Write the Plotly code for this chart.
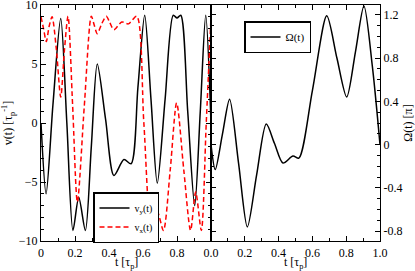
import plotly.graph_objects as go

# v_y(t) (black, left panel)
vy_t = [0.0, 0.03, 0.07, 0.116, 0.152, 0.188, 0.222, 0.261, 0.296, 0.331, 0.38, 0.429,
        0.488, 0.53, 0.57, 0.61, 0.647, 0.684, 0.73, 0.778, 0.80, 0.822, 0.863, 0.904,
        0.937, 0.969, 1.0]
vy_v = [0.0, -6.0, 1.5, 8.85, 0.0, -9.1, -6.3, -9.1, -2.0, 5.0, 0.3, -4.45,
        -3.1, -3.45, 3.0, 9.13, 2.0, -5.1, 2.0, 9.13, 8.9, 9.13, 1.0, -7.0,
        1.0, 9.13, 0.0]

# v_x(t) (red dashed, left panel)
vx_t = [0.0, 0.015, 0.031, 0.048, 0.065, 0.09, 0.116, 0.138, 0.159, 0.186, 0.214,
        0.255, 0.296, 0.313, 0.331, 0.357, 0.384, 0.405, 0.429, 0.475, 0.514, 0.563,
        0.605, 0.649, 0.684, 0.72, 0.76, 0.798, 0.84, 0.88, 0.91, 0.943, 0.972, 1.0]
vx_v = [9.0, 8.0, 6.9, 8.2, 9.0, 6.3, 2.2, 6.2, 9.05, 1.5, -6.7,
        1.5, 9.05, 8.3, 7.57, 8.4, 9.05, 8.5, 7.9, 8.56, 8.4, 9.05,
        0.0, -9.1, -7.5, -9.1, -4.0, 1.7, -4.0, -9.1, -5.85, -9.1, 0.0, 9.0]

# Omega(t) (right panel)
om_t = [0.0, 0.025, 0.068, 0.11, 0.163, 0.215, 0.27, 0.327, 0.376, 0.426, 0.485, 0.52,
        0.6, 0.685, 0.745, 0.803, 0.855, 0.905, 0.955, 1.0]
om_v = [0.0, -0.23, 0.1, 0.42, -0.17, -0.76, -0.28, 0.19, 0.01, -0.17, -0.105, -0.125,
        0.5, 1.19, 0.8, 0.44, 0.86, 1.28, 0.72, 0.0]

left_xticks = [0, 0.2, 0.4, 0.6, 0.8]
left_xlabels = ["0", "0.2", "0.4", "0.6", "0.8"]
right_xticks = [0, 0.2, 0.4, 0.6, 0.8, 1.0]
right_xlabels = ["0.0", "0.2", "0.4", "0.6", "0.8", "1.0"]
left_yticks = [-10, -5, 0, 5, 10]
right_yticks = [-0.8, -0.4, 0, 0.4, 0.8, 1.2]
right_ylabels = ["-0.8", "-0.4", "0", "0.4", "0.8", "1.2"]

FONT = "Liberation Serif"
W, H = 415, 271
L, R, T, B = 41, 35, 5, 30
pw, ph = W - L - R, H - T - B
split = (211 - L) / pw
SM = 0.8

fig = go.Figure()
fig.add_trace(go.Scatter(x=vy_t, y=vy_v, mode="lines", name="v<sub>y</sub>(t)",
                         line=dict(color="black", width=1.5, shape="spline", smoothing=SM),
                         xaxis="x", yaxis="y", legend="legend"))
fig.add_trace(go.Scatter(x=vx_t, y=vx_v, mode="lines", name="v<sub>x</sub>(t)",
                         line=dict(color="red", width=1.5, dash="5px,3px", shape="spline", smoothing=SM),
                         xaxis="x", yaxis="y", legend="legend"))
fig.add_trace(go.Scatter(x=om_t, y=om_v, mode="lines", name="Ω(t)",
                         line=dict(color="black", width=1.5, shape="spline", smoothing=SM),
                         xaxis="x2", yaxis="y2", legend="legend2"))

common = dict(showline=True, linecolor="black", linewidth=1.3, mirror="ticks",
              ticks="inside", ticklen=5, tickwidth=1, tickcolor="black",
              showgrid=False, zeroline=False, automargin=False, ticklabeloverflow="allow",
              tickfont=dict(family=FONT, size=12, color="black"))

fig.update_layout(
    width=W, height=H,
    margin=dict(l=L, r=R, t=T, b=B),
    paper_bgcolor="white", plot_bgcolor="white",
    font=dict(family=FONT, size=12, color="black"),
    xaxis=dict(domain=[0, split], range=[0, 1], tickvals=left_xticks, ticktext=left_xlabels,
               minor=dict(ticks="inside", dtick=0.1, ticklen=3, tickcolor="black"),
               anchor="y", **common),
    yaxis=dict(domain=[0, 1], range=[-10, 10], tickvals=left_yticks,
               minor=dict(ticks="inside", dtick=1, ticklen=3, tickcolor="black"),
               title=dict(text="v(t) [τ<sub>p</sub><sup>-1</sup>]", standoff=6, font=dict(family=FONT, size=12)),
               anchor="x", **common),
    xaxis2=dict(domain=[split, 1], range=[0, 1], tickvals=right_xticks, ticktext=right_xlabels,
                minor=dict(ticks="inside", dtick=0.1, ticklen=3, tickcolor="black"),
                anchor="y2", **common),
    yaxis2=dict(domain=[0, 1], range=[-0.89, 1.29], tickvals=right_yticks, ticktext=right_ylabels,
                minor=dict(ticks="inside", dtick=0.1, ticklen=3, tickcolor="black"),
                side="right",
                title=dict(text="Ω(t) [π]", standoff=4, font=dict(family=FONT, size=12)),
                anchor="x2", **common),
    legend=dict(x=(93 - L) / pw, y=(H - B - 192) / ph, xanchor="left", yanchor="top",
                bgcolor="white", bordercolor="black", borderwidth=1.5,
                font=dict(family=FONT, size=10), itemwidth=30, tracegroupgap=0),
    legend2=dict(x=(244 - L) / pw, y=(H - B - 21) / ph, xanchor="left", yanchor="top",
                 bgcolor="white", bordercolor="black", borderwidth=1.5,
                 font=dict(family=FONT, size=11), itemwidth=30),
    showlegend=True,
)

ytitle = -(263 - (H - B)) / ph
for xc in [(126 - L) / pw, (295 - L) / pw]:
    fig.add_annotation(text="t [τ<sub>p</sub>]", x=xc, y=ytitle, xref="paper", yref="paper",
                       xanchor="center", yanchor="middle", showarrow=False,
                       font=dict(family=FONT, size=12, color="black"))

fig.write_html("out.html", config={"displayModeBar": False},
               post_script="document.body.style.margin='0px';document.body.style.overflow='hidden';")
